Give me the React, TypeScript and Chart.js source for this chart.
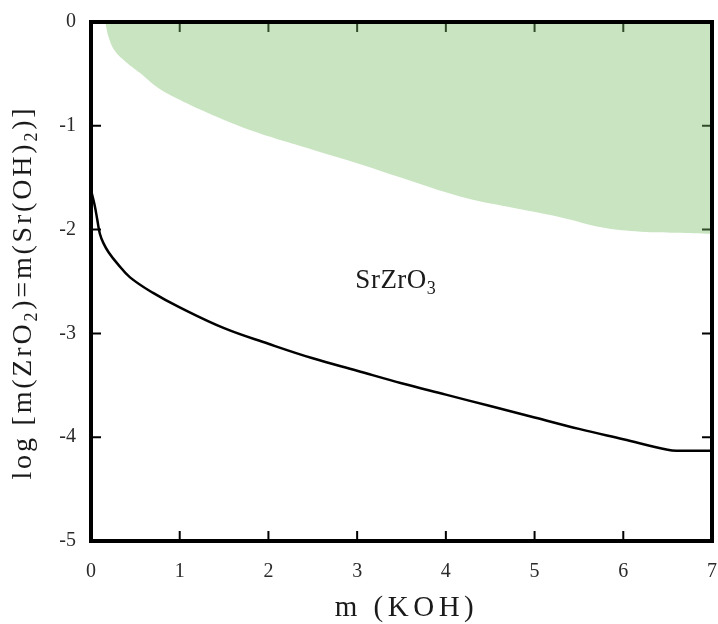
import React, { useEffect, useRef } from "react";
import { Chart, registerables } from "chart.js";

Chart.register(...registerables);

// Black boundary curve: m(KOH) vs log m
const kohCurve = [0, 0.04, 0.07, 0.1, 0.14, 0.2, 0.3, 0.44, 0.7, 1.0, 1.5, 2.0, 2.5, 3.0, 3.5, 4.0, 4.5, 5.0, 5.5, 6.0, 6.5, 6.6, 7.0];
const logCurve = [-1.62, -1.76, -1.9, -2.04, -2.13, -2.22, -2.33, -2.46, -2.61, -2.75, -2.95, -3.1, -3.24, -3.36, -3.48, -3.59, -3.7, -3.81, -3.92, -4.02, -4.12, -4.13, -4.13];

// Green region lower boundary (filled up to log = 0)
const kohGreen = [0.16, 0.2, 0.27, 0.4, 0.55, 0.75, 1.0, 1.3, 1.79, 2.5, 3.0, 3.5, 4.16, 4.7, 5.29, 5.77, 6.2, 6.6, 7.0];
const logGreen = [0, -0.15, -0.28, -0.39, -0.49, -0.63, -0.75, -0.87, -1.04, -1.23, -1.36, -1.5, -1.68, -1.78, -1.88, -1.98, -2.02, -2.03, -2.04];

const xTicks = [0, 1, 2, 3, 4, 5, 6, 7];
const yTicks = [-5, -4, -3, -2, -1, 0];

const xTitle = [{ t: "m (KOH)" }];
const yTitle = [
  { t: "log [m(ZrO" },
  { t: "2", sub: true },
  { t: ")=m(Sr(OH)" },
  { t: "2", sub: true },
  { t: ")]" },
];
const regionLabel = [{ t: "SrZrO" }, { t: "3", sub: true }];
const regionLabelPos = { x: 2.98, y: -2.56 };

const SERIF = '"Liberation Serif", "Times New Roman", serif';

type Part = { t: string; sub?: boolean };

function drawRich(
  ctx: CanvasRenderingContext2D,
  parts: Part[],
  x: number,
  y: number,
  size: number,
  spacing: number,
  align: "left" | "center"
) {
  const subSize = Math.round(size * 0.65);
  const widths = parts.map((p) => {
    ctx.font = `${p.sub ? subSize : size}px ${SERIF}`;
    (ctx as any).letterSpacing = `${spacing}px`;
    return ctx.measureText(p.t).width;
  });
  const total = widths.reduce((a, b) => a + b, 0);
  let cx = align === "center" ? x - total / 2 : x;
  ctx.textAlign = "left";
  ctx.textBaseline = "alphabetic";
  parts.forEach((p, i) => {
    ctx.font = `${p.sub ? subSize : size}px ${SERIF}`;
    (ctx as any).letterSpacing = `${spacing}px`;
    ctx.fillText(p.t, cx, y + (p.sub ? size * 0.22 : 0));
    cx += widths[i];
  });
  (ctx as any).letterSpacing = "0px";
}

const decor = {
  id: "decor",
  beforeDatasetsDraw(chart: any) {
    const { ctx, chartArea: a, scales } = chart;
    const xs = scales.x;
    const ys = scales.y;
    const L = 10;
    ctx.save();
    ctx.strokeStyle = "#000";
    ctx.lineWidth = 2;
    ctx.beginPath();
    for (const v of xTicks) {
      const px = xs.getPixelForValue(v);
      ctx.moveTo(px, a.bottom);
      ctx.lineTo(px, a.bottom - L);
      ctx.moveTo(px, a.top);
      ctx.lineTo(px, a.top + L);
    }
    for (const v of yTicks) {
      const py = ys.getPixelForValue(v);
      ctx.moveTo(a.left, py);
      ctx.lineTo(a.left + L, py);
      ctx.moveTo(a.right, py);
      ctx.lineTo(a.right - L, py);
    }
    ctx.stroke();
    ctx.restore();
  },
  afterDatasetsDraw(chart: any) {
    const { ctx, chartArea: a, scales } = chart;
    const xs = scales.x;
    const ys = scales.y;
    ctx.save();
    ctx.strokeStyle = "#000";
    ctx.lineWidth = 4;
    ctx.strokeRect(a.left, a.top, a.right - a.left, a.bottom - a.top);

    ctx.fillStyle = "#1a1a1a";
    drawRich(
      ctx,
      regionLabel,
      xs.getPixelForValue(regionLabelPos.x),
      ys.getPixelForValue(regionLabelPos.y),
      27,
      0.5,
      "left"
    );

    drawRich(ctx, xTitle, (a.left + a.right) / 2 + 5, 616, 29, 4.5, "center");

    ctx.translate(31, (a.top + a.bottom) / 2 + 11);
    ctx.rotate(-Math.PI / 2);
    drawRich(ctx, yTitle, 0, 0, 28, 2.8, "center");
    ctx.restore();
  },
};

export default function App() {
  const ref = useRef<HTMLCanvasElement>(null);

  useEffect(() => {
    if (!ref.current) return;
    const curve = kohCurve.map((x, i) => ({ x, y: logCurve[i] }));
    const green = kohGreen.map((x, i) => ({ x, y: logGreen[i] }));
    const chart = new Chart(ref.current, {
      type: "scatter",
      data: {
        datasets: [
          {
            data: green,
            showLine: true,
            fill: "end",
            backgroundColor: "rgba(118,188,98,0.4)",
            borderWidth: 0,
            borderColor: "rgba(0,0,0,0)",
            pointRadius: 0,
            tension: 0.4,
          },
          {
            data: curve,
            showLine: true,
            fill: false,
            borderColor: "#000",
            borderWidth: 2.5,
            pointRadius: 0,
            tension: 0.4,
          },
        ],
      } as any,
      options: {
        animation: false,
        responsive: true,
        maintainAspectRatio: false,
        layout: { autoPadding: false, padding: { top: 22, right: 6, left: 0, bottom: 0 } },
        plugins: { legend: { display: false }, tooltip: { enabled: false } },
        scales: {
          x: {
            type: "linear",
            min: 0,
            max: 7,
            grid: { display: false, drawTicks: false },
            border: { display: false },
            ticks: {
              stepSize: 1,
              maxRotation: 0,
              padding: 19,
              color: "#2a2a2a",
              font: { family: SERIF, size: 20 },
            },
            afterFit: (s: any) => {
              s.height = 83;
              s.paddingLeft = 0;
              s.paddingRight = 0;
            },
          },
          y: {
            type: "linear",
            min: -5,
            max: 0,
            grid: { display: false, drawTicks: false },
            border: { display: false },
            ticks: {
              stepSize: 1,
              padding: 15,
              color: "#2a2a2a",
              font: { family: SERIF, size: 20 },
            },
            afterFit: (s: any) => {
              s.width = 91;
              s.paddingTop = 0;
              s.paddingBottom = 0;
            },
          },
        },
      } as any,
      plugins: [decor],
    });
    return () => chart.destroy();
  }, []);

  return (
    <div style={{ position: "fixed", left: 0, top: 0, width: 718, height: 624, background: "#fff" }}>
      <canvas ref={ref} />
    </div>
  );
}
